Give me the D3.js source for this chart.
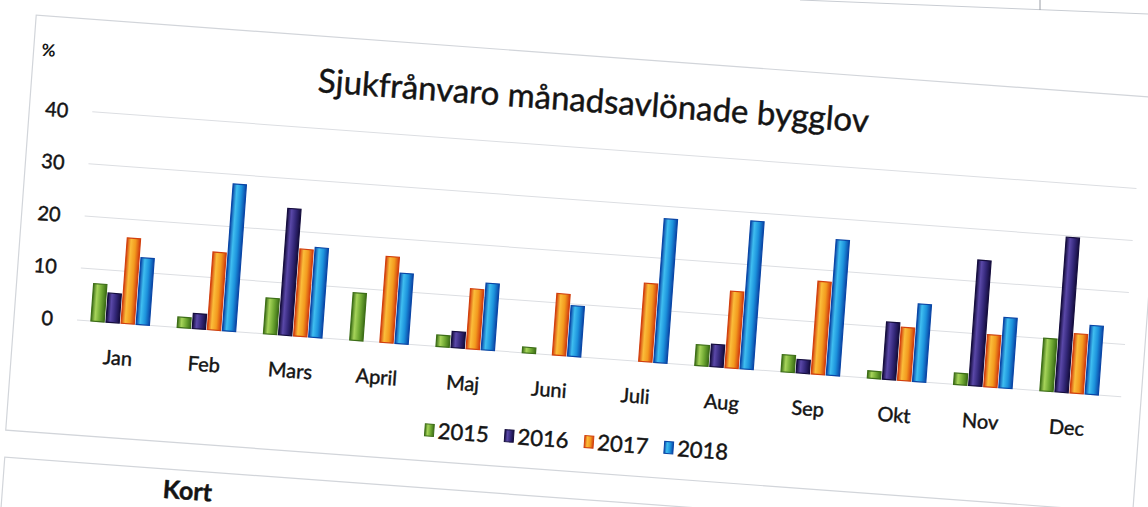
<!DOCTYPE html>
<html>
<head>
<meta charset="utf-8">
<script src="https://cdn.jsdelivr.net/npm/d3@7"></script>
<style>
  body { margin: 0; background: #ffffff; }
  svg { display: block; }
  text { font-family: Lato, "Open Sans", "Noto Sans", sans-serif; fill: #141414; }
  .ink { stroke: #141414; stroke-width: 0.45px; }
</style>
</head>
<body>
<svg id="chart" width="1148" height="507"></svg>
<script>
// Monthly sick-leave share (%) for salaried staff in the building-permit unit
const months = ["Jan", "Feb", "Mars", "April", "Maj", "Juni", "Juli", "Aug", "Sep", "Okt", "Nov", "Dec"];
const years = ["2015", "2016", "2017", "2018"];
const v2015 = [7.2, 2.0, 6.9, 9.1, 2.2, 1.1, 0, 4.0, 3.3, 1.4, 2.2, 10.1];
const v2016 = [5.6, 2.9, 24.3, 0, 3.1, 0, 0, 4.3, 2.6, 11.0, 24.1, 29.7];
const v2017 = [16.4, 14.9, 16.7, 16.5, 11.5, 11.8, 15.0, 14.7, 17.8, 10.2, 10.0, 11.4];
const v2018 = [12.8, 28.2, 17.2, 13.5, 12.8, 9.7, 27.6, 28.4, 26.0, 14.9, 13.5, 13.2];
const yTicks = [0, 10, 20, 30, 40];
const titleText = "Sjukfrånvaro månadsavlönade bygglov";
const unitText = "%";

const seriesValues = [v2015, v2016, v2017, v2018];
const palette = {
  "2015": { edge: "#3d6e17", light: "#a6d45a", mid: "#6fa832" },
  "2016": { edge: "#150d3e", light: "#5a48a8", mid: "#34287a" },
  "2017": { edge: "#d2400e", light: "#fbbd3a", mid: "#f39a1e" },
  "2018": { edge: "#0a46a6", light: "#3fbef0", mid: "#1c92dc" }
};

const svg = d3.select("#chart");
const defs = svg.append("defs");
years.forEach(y => {
  const c = palette[y];
  const g = defs.append("linearGradient").attr("id", "grad" + y)
    .attr("x1", 0).attr("x2", 1).attr("y1", 0).attr("y2", 0);
  g.append("stop").attr("offset", 0).attr("stop-color", c.edge);
  g.append("stop").attr("offset", 0.3).attr("stop-color", c.light);
  g.append("stop").attr("offset", 0.65).attr("stop-color", c.mid);
  g.append("stop").attr("offset", 1).attr("stop-color", c.edge);
});

// stray page rule of the sheet above
svg.append("line").attr("x1", 800).attr("y1", 0).attr("x2", 1148).attr("y2", 14)
  .attr("stroke", "#c9cdd3").attr("stroke-width", 1);
svg.append("line").attr("x1", 1040).attr("y1", 0).attr("x2", 1040).attr("y2", 10)
  .attr("stroke", "#9a9ea6").attr("stroke-width", 1);

// the whole sheet sits slightly tilted
const page = svg.append("g").attr("transform", "rotate(4.2, 77, 320)");

// chart card and the card below it
page.append("rect").attr("x", 14).attr("y", 19).attr("width", 1130).attr("height", 416)
  .attr("fill", "none").attr("stroke", "#d2d5da").attr("stroke-width", 1.2);
page.append("rect").attr("x", 15).attr("y", 462).attr("width", 1160).attr("height", 260)
  .attr("fill", "none").attr("stroke", "#d2d5da").attr("stroke-width", 1.2);
page.append("text").attr("class", "ink").attr("x", 175).attr("y", 491)
  .attr("font-size", 25).attr("font-weight", 700).text("Kort");

const plotLeft = 77, plotRight = 1115, gridRight = 1124;
const y = d3.scaleLinear().domain([0, 40]).range([320, 111.2]);
const x = d3.scaleBand().domain(months).range([plotLeft, plotRight])
  .paddingInner(0.28).paddingOuter(0.14);
const xs = d3.scaleBand().domain(years).range([0, x.bandwidth()]).padding(0.12);

// gridlines
page.append("g").selectAll("line").data(yTicks).join("line")
  .attr("x1", plotLeft).attr("x2", gridRight)
  .attr("y1", d => y(d)).attr("y2", d => y(d))
  .attr("stroke", "#dcdee2").attr("stroke-width", 1);

// y axis labels
const yAxis = d3.axisLeft(y).tickValues(yTicks).tickSize(0).tickPadding(0);
const ya = page.append("g").attr("transform", "translate(53,0)").call(yAxis);
ya.select(".domain").remove();
ya.selectAll("text").attr("class", "ink").attr("font-size", 20)
  .attr("font-family", "Lato, sans-serif").attr("fill", "#141414").attr("dy", "0.35em");

page.append("text").attr("x", 22).attr("y", 59).attr("font-size", 17)
  .attr("font-weight", 700).text(unitText);

// title
page.append("text").attr("class", "ink").attr("x", 576).attr("y", 75)
  .attr("text-anchor", "middle").attr("font-size", 33).text(titleText);

// bars
const rows = [];
months.forEach((m, i) => years.forEach((yr, s) => {
  rows.push({ month: m, year: yr, value: seriesValues[s][i] });
}));
page.append("g").selectAll("rect").data(rows.filter(d => d.value > 0)).join("rect")
  .attr("x", d => x(d.month) + xs(d.year))
  .attr("width", xs.bandwidth())
  .attr("y", d => y(d.value))
  .attr("height", d => y(0) - y(d.value))
  .attr("fill", d => "url(#grad" + d.year + ")")
  .attr("stroke", d => palette[d.year].edge)
  .attr("stroke-width", 1.2);

// category labels
const xAxis = d3.axisBottom(x).tickSize(0).tickPadding(0);
const xa = page.append("g").attr("transform", "translate(0,344)").call(xAxis);
xa.select(".domain").remove();
xa.selectAll("text").attr("class", "ink").attr("font-size", 20)
  .attr("font-family", "Lato, sans-serif").attr("fill", "#141414").attr("dy", "0.9em");

// legend
const legend = page.append("g").attr("transform", "translate(432,404)");
const item = legend.selectAll("g").data(years).join("g")
  .attr("transform", (d, i) => `translate(${i * 80},0)`);
item.append("rect").attr("x", 0).attr("y", -6).attr("width", 9).attr("height", 12)
  .attr("fill", d => "url(#grad" + d + ")").attr("stroke", d => palette[d].edge);
item.append("text").attr("class", "ink").attr("x", 13).attr("y", 0).attr("dy", "0.36em")
  .attr("font-size", 22).text(d => d);
</script>
</body>
</html>
